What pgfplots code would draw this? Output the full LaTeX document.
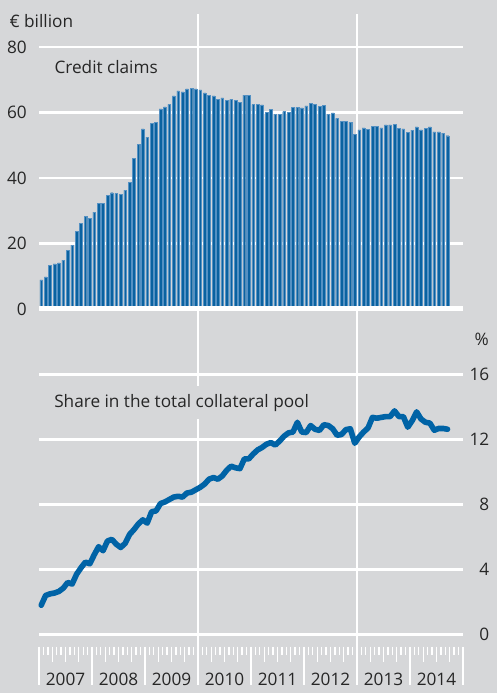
\documentclass[border=0pt]{standalone}
\usepackage{pgfplots}
\pgfplotsset{compat=1.18}
\usepackage{pgfplotstable}
\usepackage{fontspec}
\setmainfont{Open Sans}

\definecolor{bg}{RGB}{214,215,217}
\definecolor{barblue}{RGB}{10,98,160}
\definecolor{edgeblue}{RGB}{85,145,195}
\definecolor{lineblue}{RGB}{0,99,166}
\definecolor{txt}{RGB}{38,38,38}

% credit claims, EUR billion, monthly from Jan 2007 (x = month index + 0.5)
\pgfplotstableread{
m v
0.5 8.9
1.5 9.8
2.5 13.3
3.5 13.8
4.5 14.1
5.5 14.9
6.5 18.0
7.5 19.5
8.5 23.7
9.5 26.1
10.5 28.2
11.5 27.7
12.5 29.6
13.5 32.2
14.5 32.2
15.5 34.7
16.5 35.5
17.5 35.3
18.5 35.0
19.5 36.3
20.5 38.7
21.5 46.0
22.5 50.3
23.5 55.0
24.5 52.5
25.5 56.7
26.5 56.9
27.5 61.1
28.5 61.7
29.5 62.5
30.5 65.1
31.5 66.6
32.5 66.3
33.5 67.2
34.5 67.4
35.5 67.2
36.5 66.9
37.5 66.0
38.5 65.3
39.5 65.1
40.5 64.1
41.5 64.5
42.5 63.8
43.5 63.9
44.5 63.6
45.5 63.1
46.5 65.3
47.5 65.3
48.5 62.4
49.5 62.4
50.5 62.3
51.5 60.1
52.5 60.9
53.5 59.5
54.5 59.4
55.5 60.3
56.5 60.0
57.5 61.6
58.5 61.6
59.5 61.4
60.5 62.0
61.5 62.9
62.5 62.4
63.5 61.9
64.5 62.2
65.5 59.5
66.5 59.9
67.5 58.2
68.5 57.4
69.5 57.3
70.5 57.0
71.5 53.3
72.5 54.7
73.5 55.3
74.5 54.8
75.5 55.8
76.5 55.8
77.5 55.3
78.5 56.2
79.5 56.2
80.5 56.3
81.5 55.2
82.5 55.0
83.5 54.0
84.5 54.6
85.5 55.6
86.5 54.7
87.5 55.2
88.5 55.6
89.5 54.1
90.5 54.1
91.5 53.7
92.5 52.9
}\claims

% share in the total collateral pool, %
\pgfplotstableread{
m v
0.5 1.8
1.5 2.4
2.5 2.5
3.5 2.55
4.5 2.65
5.5 2.85
6.5 3.2
7.5 3.1
8.5 3.7
9.5 4.1
10.5 4.45
11.5 4.35
12.5 4.9
13.5 5.4
14.5 5.15
15.5 5.75
16.5 5.85
17.5 5.55
18.5 5.35
19.5 5.6
20.5 6.15
21.5 6.45
22.5 6.8
23.5 7.05
24.5 6.85
25.5 7.55
26.5 7.6
27.5 8.05
28.5 8.15
29.5 8.3
30.5 8.45
31.5 8.5
32.5 8.45
33.5 8.7
34.5 8.75
35.5 8.9
36.5 9.05
37.5 9.25
38.5 9.55
39.5 9.65
40.5 9.55
41.5 9.75
42.5 10.1
43.5 10.35
44.5 10.25
45.5 10.2
46.5 10.8
47.5 10.8
48.5 11.1
49.5 11.35
50.5 11.5
51.5 11.7
52.5 11.8
53.5 11.65
54.5 11.9
55.5 12.2
56.5 12.4
57.5 12.45
58.5 13.05
59.5 12.45
60.5 12.42
61.5 12.85
62.5 12.62
63.5 12.55
64.5 12.9
65.5 12.85
66.5 12.65
67.5 12.25
68.5 12.3
69.5 12.6
70.5 12.65
71.5 11.76
72.5 12.15
73.5 12.45
74.5 12.7
75.5 13.35
76.5 13.3
77.5 13.35
78.5 13.4
79.5 13.4
80.5 13.75
81.5 13.4
82.5 13.4
83.5 12.75
84.5 13.15
85.5 13.69
86.5 13.25
87.5 13.05
88.5 13.0
89.5 12.56
90.5 12.67
91.5 12.67
92.5 12.62
}\share

\pgfplotsset{
  panel/.style={
    scale only axis, width=318pt,
    xmin=0, xmax=96,
    axis line style={draw=none},
    xtick=\empty,
    major tick length=0pt,
    ymajorgrids,
    grid style={white, line width=2pt},
    tick label style={text=txt, inner sep=0pt},
    /pgf/number format/assume math mode=true,
    font=\fontsize{12.9}{15}\selectfont,
  },
}

\begin{document}
\begin{tikzpicture}[font=\fontsize{12.9}{15}\selectfont]
\fill[bg] (0,0) rectangle (372.75pt,519.75pt);
\draw[white, line width=1.7pt] (148.5pt,509.25pt) -- (148.5pt,6pt);
\draw[white, line width=1.7pt] (267.75pt,509.25pt) -- (267.75pt,6pt);

% upper panel: credit claims
\begin{axis}[panel,
  at={(29.25pt,288pt)}, anchor=south west,
  height=196.5pt,
  ymin=0, ymax=80,
  ytick={20,40,60,80},
  extra y ticks={0},
  yticklabel style={anchor=east, xshift=-9pt},
  clip=false,
]
\addplot[ybar, bar width=0.62, fill=barblue, draw=edgeblue, line width=0.35pt]
  table[x=m, y=v] {\claims};
\draw[white, line width=3.75pt] (axis cs:0,0) -- (axis cs:96,0);
\end{axis}

% lower panel: share in the total collateral pool
\begin{axis}[panel,
  at={(29.25pt,43.875pt)}, anchor=south west,
  height=195.15pt,
  ymin=0, ymax=16,
  ytick={0,4,8,12,16},
  yticklabel pos=right,
  yticklabel style={anchor=east, xshift=19.9pt},
  clip=false,
]
\addplot[lineblue, line width=4.2pt, line join=round, line cap=round]
  table[x=m, y=v] {\share};
\end{axis}

% month ticks and year labels
\begin{axis}[
  at={(29.25pt,6pt)}, anchor=south west,
  scale only axis, width=318pt, height=28.7pt,
  xmin=0, xmax=96, ymin=0, ymax=1,
  axis line style={draw=none},
  ytick=\empty,
  xtick={0,12,...,96}, xticklabels={},
  minor x tick num=11,
  xtick pos=right, tick align=inside,
  major tick length=28.7pt, minor tick length=6pt,
  tick style={white},
  major tick style={line width=1.5pt},
  minor tick style={line width=1pt},
  extra x ticks={3,6,9,15,18,21,27,30,33,39,42,45,51,54,57,63,66,69,75,78,81,87,90,93},
  extra x tick labels={},
  extra tick style={major tick length=11.5pt, major tick style={line width=1pt}},
  clip=false,
  font=\fontsize{12.9}{15}\selectfont,
]
\addplot[draw=none] coordinates {(0,0)};
\node[text=txt] at (axis cs:6,0.16) {2007};
\node[text=txt] at (axis cs:18,0.16) {2008};
\node[text=txt] at (axis cs:30,0.16) {2009};
\node[text=txt] at (axis cs:42,0.16) {2010};
\node[text=txt] at (axis cs:54,0.16) {2011};
\node[text=txt] at (axis cs:66,0.16) {2012};
\node[text=txt] at (axis cs:78,0.16) {2013};
\node[text=txt] at (axis cs:90,0.16) {2014};
\end{axis}

\node[text=txt, anchor=base west, inner sep=0pt] at (7pt,499.3pt) {€ billion};
\node[text=txt, anchor=base west, inner sep=0pt] at (40.7pt,464.25pt) {Credit claims};
\node[text=txt, anchor=base west, fill=bg, inner xsep=3pt, inner ysep=6pt] at (37.5pt,214.3pt) {Share in the total collateral pool};
\node[text=txt, anchor=base east, inner sep=0pt] at (366.75pt,260.25pt) {\%};

\pgfresetboundingbox
\path[use as bounding box] (0,0) rectangle (372.75pt,519.75pt);
\end{tikzpicture}
\end{document}
